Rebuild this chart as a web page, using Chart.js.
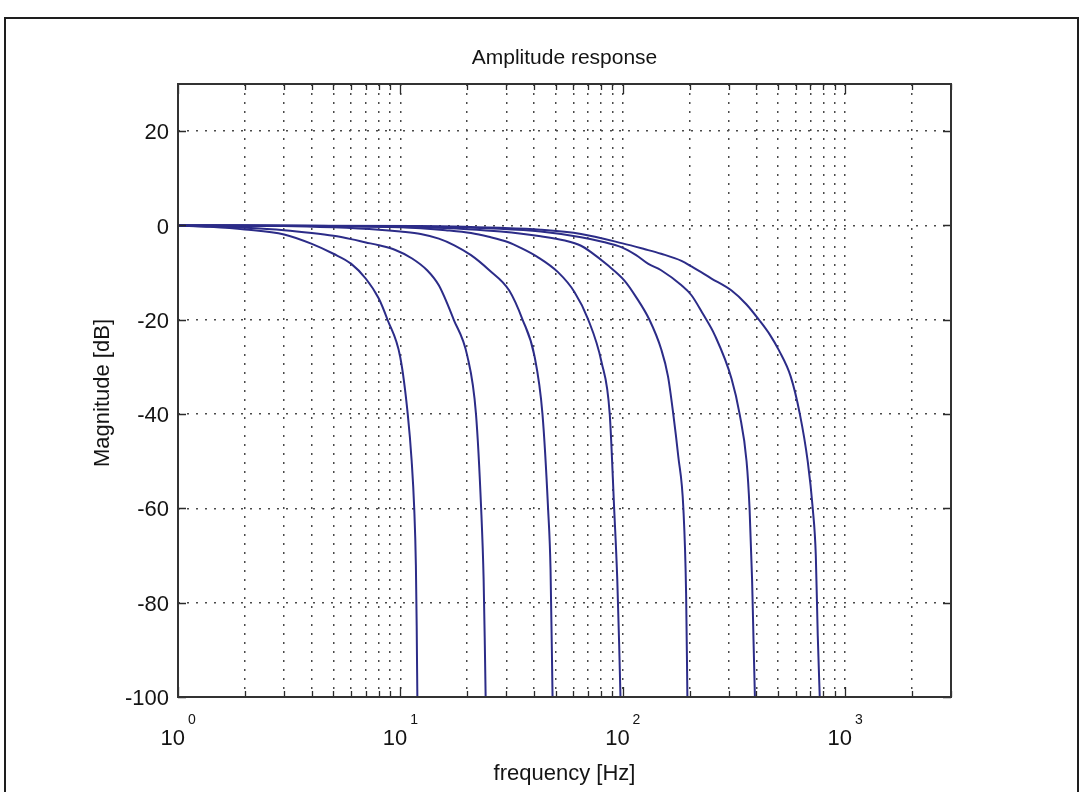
<!DOCTYPE html>
<html>
<head>
<meta charset="utf-8">
<script src="https://cdn.jsdelivr.net/npm/chart.js@4.4.1/dist/chart.umd.min.js"></script>
<style>
  html, body { margin: 0; padding: 0; background: #fff; }
  body { width: 1080px; height: 792px; position: relative; overflow: hidden; }
  #frame { position: absolute; left: 4px; top: 17px; width: 1071px; height: 800px; border: 2px solid #1e1e1e; border-bottom: none; }
  #chart { position: absolute; left: 0; top: 0; }
</style>
</head>
<body>
<div id="frame"></div>
<canvas id="chart" width="1080" height="792"></canvas>
<script>
// grid / tick values
const xGrid = [1, 2, 3, 4, 5, 6, 7, 8, 9,
  10, 20, 30, 40, 50, 60, 70, 80, 90,
  100, 200, 300, 400, 500, 600, 700, 800, 900,
  1000, 2000, 3000];
const xDecades = [1, 10, 100, 1000];
const xExponents = ['0', '1', '2', '3'];
const yTicks = [-100, -80, -60, -40, -20, 0, 20];

// seven responses, frequency [Hz] and magnitude [dB]
const freqA = [1, 1.4, 2, 3, 4, 5, 6, 7, 8, 8.76, 10, 10.8, 11.25, 11.55, 11.75, 11.85, 11.93];
const magA  = [0, -0.3, -0.85, -1.9, -3.9, -6.0, -8.1, -11.3, -15.5, -20, -28, -40, -50, -60, -72, -85, -100];

const freqB = [1, 2, 3, 4, 5, 6, 7, 8, 9.5, 11.3, 13.2, 14.9, 17.4, 20, 21.9, 23.1, 23.7, 24.0, 24.2];
const magB  = [0, -0.5, -1.0, -1.6, -2.2, -2.9, -3.6, -4.2, -5.2, -7.0, -9.5, -12.7, -20, -27.6, -40, -60, -75, -89, -100];

const freqC = [1, 3, 5, 8, 10, 12.35, 14.9, 17.5, 20.8, 25, 30.9, 35.5, 40.1, 43.6, 46.2, 47.4, 48.4];
const magC  = [0, -0.1, -0.4, -0.9, -1.3, -1.8, -2.8, -4.2, -6.3, -9.4, -13.8, -20, -27.6, -40, -60, -73, -100];

const freqD = [1, 5, 10, 12.35, 16, 20.8, 25, 30.4, 35, 41.5, 51.2, 60.7, 69.8, 80.4, 87.5, 91.6, 94.6, 96.5, 97.8];
const magD  = [0, -0.1, -0.4, -0.6, -1.0, -1.6, -2.4, -3.5, -4.8, -6.7, -9.9, -14.1, -19.8, -29, -40, -60, -75, -89, -100];

const freqE = [1, 5, 12.35, 20, 28.3, 42.8, 55, 65, 72.3, 85, 101.9, 115, 132, 149, 160, 169, 178, 187.6, 193, 195.6];
const magE  = [0, -0.1, -0.4, -0.8, -1.3, -2.3, -3.2, -4.3, -5.7, -8.3, -11.7, -15.2, -20, -26.2, -32, -40, -49, -60, -78, -100];

const freqF = [1, 12, 28, 42.8, 65, 82, 98.6, 115, 130, 149, 184, 204, 230, 260, 309, 336, 361, 372.4, 382.2, 388, 393.6];
const magF  = [0, -0.2, -0.7, -1.3, -2.5, -3.5, -4.6, -6.3, -8.1, -9.5, -12.7, -14.8, -18.8, -23.3, -32.5, -40, -50, -60, -75, -88, -100];

const freqG = [1, 12, 28, 42.8, 65, 100, 125, 149, 184, 204, 250, 309, 360, 412, 460, 505, 570, 627, 680, 716.5, 739.6, 754.7, 770.5];
const magG  = [0, -0.1, -0.5, -0.9, -1.8, -3.8, -5.0, -6.0, -7.5, -8.7, -11.2, -13.8, -16.7, -20.1, -23.2, -26.5, -32, -40, -50, -60, -70, -87, -100];

const curves = [
  [freqA, magA], [freqB, magB], [freqC, magC], [freqD, magD],
  [freqE, magE], [freqF, magF], [freqG, magG]
];

const lineColor = '#2c2c88';
const textColor = '#141414';
const font = '"Liberation Sans", Arial, Helvetica, sans-serif';

const matlabAxes = {
  id: 'matlabAxes',
  afterDraw(chart) {
    const { ctx, chartArea: a, scales: { x, y } } = chart;
    ctx.save();

    // inward ticks
    ctx.strokeStyle = '#2a2a2a';
    ctx.lineWidth = 1.3;
    ctx.beginPath();
    xGrid.forEach(v => {
      const px = Math.round(x.getPixelForValue(v)) + 0.5;
      const len = xDecades.includes(v) ? 10 : 6;
      ctx.moveTo(px, a.bottom); ctx.lineTo(px, a.bottom - len);
      ctx.moveTo(px, a.top); ctx.lineTo(px, a.top + len);
    });
    yTicks.forEach(v => {
      const py = Math.round(y.getPixelForValue(v)) + 0.5;
      ctx.moveTo(a.left, py); ctx.lineTo(a.left + 8, py);
      ctx.moveTo(a.right, py); ctx.lineTo(a.right - 8, py);
    });
    ctx.stroke();

    // box
    ctx.lineWidth = 2;
    ctx.strokeStyle = '#333';
    ctx.strokeRect(a.left, a.top, a.right - a.left, a.bottom - a.top);

    ctx.fillStyle = textColor;

    // y tick labels
    ctx.font = '22px ' + font;
    ctx.textAlign = 'right';
    ctx.textBaseline = 'middle';
    yTicks.forEach(v => {
      ctx.fillText(String(v), a.left - 9, y.getPixelForValue(v) + 2);
    });

    // x tick labels 10^n
    ctx.textBaseline = 'alphabetic';
    xDecades.forEach((v, i) => {
      const px = x.getPixelForValue(v);
      ctx.font = '22px ' + font;
      ctx.textAlign = 'right';
      ctx.fillText('10', px + 7, 745);
      ctx.font = '14px ' + font;
      ctx.textAlign = 'left';
      ctx.fillText(xExponents[i], px + 10, 724);
    });

    // title and axis titles
    const cx = (a.left + a.right) / 2;
    ctx.font = '21px ' + font;
    ctx.textAlign = 'center';
    ctx.fillText('Amplitude response', cx, 64);
    ctx.font = '22px ' + font;
    ctx.fillText('frequency [Hz]', cx, 780);
    ctx.translate(109, 393);
    ctx.rotate(-Math.PI / 2);
    ctx.fillText('Magnitude [dB]', 0, 0);

    ctx.restore();
  }
};

new Chart(document.getElementById('chart'), {
  type: 'scatter',
  data: {
    datasets: curves.map(([f, m]) => ({
      data: f.map((v, i) => ({ x: v, y: m[i] })),
      showLine: true,
      borderColor: lineColor,
      borderWidth: 2,
      pointRadius: 0,
      cubicInterpolationMode: 'monotone'
    }))
  },
  options: {
    responsive: false,
    animation: false,
    layout: { padding: { left: 178, right: 129, top: 84, bottom: 95 } },
    plugins: {
      legend: { display: false },
      tooltip: { enabled: false },
      title: { display: false }
    },
    scales: {
      x: {
        type: 'logarithmic',
        min: 1,
        max: 3000,
        afterBuildTicks: s => { s.ticks = xGrid.map(v => ({ value: v })); },
        afterFit: s => { s.height = 0; },
        ticks: { display: false, autoSkip: false },
        grid: { color: '#4a4a4a', lineWidth: 1.5, drawTicks: false },
        border: { display: false, dash: [2, 7] }
      },
      y: {
        type: 'linear',
        min: -100,
        max: 30,
        afterBuildTicks: s => { s.ticks = yTicks.map(v => ({ value: v })); },
        afterFit: s => { s.width = 0; },
        ticks: { display: false },
        grid: { color: '#4a4a4a', lineWidth: 1.5, drawTicks: false },
        border: { display: false, dash: [2, 7] }
      }
    }
  },
  plugins: [matlabAxes]
});
</script>
</body>
</html>
